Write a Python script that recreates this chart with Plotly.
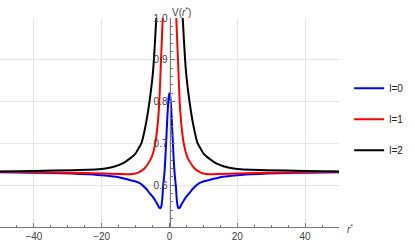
import plotly.graph_objects as go

# ---- data ----
r_l0 = [-50, -40, -35, -29, -24, -19, -15, -12, -10, -8.8, -6.8, -5.9, -4.9, -3.9, -3.4, -3.0, -2.7, -2.4, -2.1, -1.9, -1.6, -1.4, -1.2, -1.0, -0.8, -0.6, -0.4, -0.2, 0,
        0.2, 0.4, 0.6, 0.8, 1.0, 1.2, 1.4, 1.6, 1.9, 2.1, 2.4, 2.7, 3.0, 3.4, 3.9, 4.9, 5.9, 6.8, 8.8, 10, 12, 15, 19, 24, 29, 35, 40, 50]
v_l0 = [0.631, 0.630, 0.629, 0.628, 0.626, 0.623, 0.619, 0.613, 0.609, 0.605, 0.591, 0.581, 0.572, 0.559, 0.552, 0.546, 0.545, 0.550, 0.570, 0.596, 0.620, 0.640, 0.668, 0.700, 0.735, 0.768, 0.795, 0.813, 0.820,
        0.813, 0.795, 0.768, 0.735, 0.700, 0.668, 0.640, 0.620, 0.596, 0.570, 0.550, 0.545, 0.546, 0.552, 0.559, 0.572, 0.581, 0.591, 0.605, 0.609, 0.613, 0.619, 0.623, 0.626, 0.628, 0.629, 0.630, 0.631]

r_l1 = [-50, -40, -30, -20, -15, -12, -10, -8.8, -7.4, -5.7, -5.0, -4.2, -3.5, -3.0, -2.5, -2.0, -1.8, None,
        1.8, 2.0, 2.5, 3.0, 3.5, 4.2, 5.0, 5.7, 7.4, 8.8, 10, 12, 15, 20, 30, 40, 50]
v_l1 = [0.632, 0.631, 0.630, 0.628, 0.627, 0.626, 0.628, 0.632, 0.640, 0.660, 0.673, 0.700, 0.745, 0.800, 0.900, 1.000, 1.060, None,
        1.060, 1.000, 0.900, 0.800, 0.745, 0.700, 0.673, 0.660, 0.640, 0.632, 0.628, 0.626, 0.627, 0.628, 0.630, 0.631, 0.632]

r_l2 = [-50, -40, -28.6, -20, -17, -15, -13, -12, -11, -10, -9, -8.3, -7.0, -5.9, -5.0, -4.6, -3.9, -3.6, None,
        3.6, 3.9, 4.6, 5.0, 5.9, 7.0, 8.3, 9, 10, 11, 12, 13, 15, 17, 20, 28.6, 40, 50]
v_l2 = [0.633, 0.634, 0.636, 0.639, 0.643, 0.648, 0.656, 0.662, 0.668, 0.676, 0.690, 0.700, 0.745, 0.800, 0.860, 0.900, 1.000, 1.080, None,
        1.080, 1.000, 0.900, 0.860, 0.800, 0.745, 0.700, 0.690, 0.676, 0.668, 0.662, 0.656, 0.648, 0.643, 0.639, 0.636, 0.634, 0.633]

names = ["l=0", "l=1", "l=2"]
colors = ["#0000ff", "#ff0000", "#000000"]

x_ticks = [-40, -20, 0, 20, 40]
x_tick_text = ["\u221240", "\u221220", "0", "20", "40"]
y_ticks = [0.6, 0.7, 0.8, 0.9, 1.0]
y_tick_text = ["0.6", "0.7", "0.8", "0.9", "1.0"]

FONT = "Liberation Sans"

fig = go.Figure()
for i, (rx, vy) in enumerate([(r_l0, v_l0), (r_l1, v_l1), (r_l2, v_l2)]):
    fig.add_trace(go.Scatter(
        x=rx, y=vy, mode="lines", name=names[i],
        line=dict(color=colors[i], width=2, shape="spline", smoothing=0.5),
        legendgroup=names[i], connectgaps=False,
    ))

fig.update_layout(
    width=415, height=242,
    margin=dict(l=0, r=76, t=18, b=15, autoexpand=False),
    paper_bgcolor="white", plot_bgcolor="white",
    font=dict(family=FONT, size=10, color="#444"),
    showlegend=True,
    legend=dict(x=1.03, y=0.515, xanchor="left", yanchor="middle",
                font=dict(family=FONT, size=10, color="#222"),
                tracegroupgap=12, itemwidth=30, bgcolor="rgba(0,0,0,0)"),
    xaxis=dict(range=[-50, 50], tickvals=x_ticks, ticktext=x_tick_text,
               showgrid=True, gridcolor="#e6e6e6", gridwidth=1,
               zeroline=False, showline=True, linecolor="#777", linewidth=1,
               ticks="inside", ticklen=4, tickcolor="#777",
               minor=dict(ticks="inside", dtick=5, ticklen=2, tickcolor="#777", showgrid=False),
               tickfont=dict(size=10, color="#444"), fixedrange=True),
    yaxis=dict(range=[0.5, 1.0], tickvals=y_ticks, ticktext=y_tick_text,
               anchor="free", position=0.5, side="left",
               showgrid=True, gridcolor="#e6e6e6", gridwidth=1,
               zeroline=False, showline=True, linecolor="#777", linewidth=1,
               ticks="inside", ticklen=4, tickcolor="#777",
               minor=dict(ticks="inside", dtick=0.02, ticklen=2, tickcolor="#777", showgrid=False),
               tickfont=dict(size=10, color="#444"), fixedrange=True),
    annotations=[
        dict(text="V(<i>r</i><sup>*</sup>)", xref="paper", yref="paper", x=0.5, y=1.0,
             xanchor="left", yanchor="bottom", showarrow=False, yshift=-2,
             font=dict(family=FONT, size=10, color="#444")),
        dict(text="<i>r</i><sup>*</sup>", xref="paper", yref="paper", x=1.0, y=0.0,
             xanchor="left", yanchor="middle", showarrow=False, xshift=6, yshift=-2,
             font=dict(family=FONT, size=10, color="#444")),
    ],
)

fig.write_html("out.html", config={"displayModeBar": False},
               post_script="document.body.style.margin='0';document.body.style.overflow='hidden';")
